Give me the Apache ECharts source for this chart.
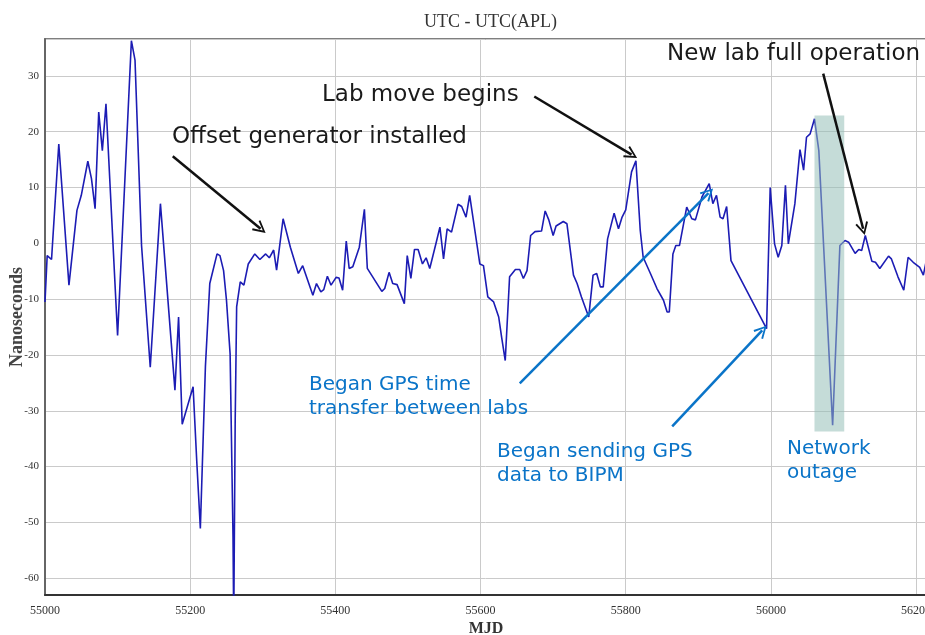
<!DOCTYPE html>
<html>
<head>
<meta charset="utf-8">
<title>UTC - UTC(APL)</title>
<script src="https://cdn.jsdelivr.net/npm/echarts@6/dist/echarts.min.js"></script>
<style>
  html, body { margin: 0; padding: 0; background: #fff; }
  #chart { width: 925px; height: 635px; }
</style>
</head>
<body>
<div id="chart"></div>
<script>
// MJD / nanosecond values
var mjd = [55000, 55003, 55009, 55019, 55033, 55044, 55050, 55059, 55064, 55069,
  55074, 55079, 55084, 55100, 55119, 55124, 55133, 55145, 55159, 55179,
  55184, 55189, 55204, 55209, 55214, 55221, 55227, 55237, 55241, 55246,
  55250, 55255, 55259, 55260, 55262, 55264, 55269, 55274, 55280, 55289,
  55296, 55304, 55309, 55315, 55319, 55328, 55338, 55349, 55355, 55369,
  55374, 55380, 55384, 55389, 55394, 55401, 55405, 55410, 55415, 55419,
  55424, 55433, 55440, 55444, 55464, 55468, 55474, 55479, 55485, 55495,
  55499, 55504, 55509, 55514, 55520, 55525, 55530, 55539, 55544, 55549,
  55554, 55560, 55569, 55574, 55580, 55585, 55599, 55604, 55610, 55618,
  55625, 55629, 55634, 55640, 55648, 55654, 55659, 55664, 55669, 55675,
  55684, 55689, 55694, 55700, 55704, 55714, 55719, 55728, 55733, 55739,
  55749, 55755, 55760, 55765, 55769, 55775, 55784, 55790, 55795, 55800,
  55808, 55814, 55820, 55824, 55834, 55843, 55852, 55857, 55860, 55865,
  55869, 55874, 55884, 55891, 55896, 55905, 55915, 55920, 55925, 55930,
  55934, 55939, 55945, 55994, 55999, 56005, 56010, 56015, 56020, 56024,
  56033, 56040, 56045, 56049, 56054, 56060, 56066, 56085, 56095, 56102,
  56107, 56116, 56121, 56125, 56130, 56139, 56144, 56150, 56162, 56166,
  56175, 56183, 56189, 56196, 56205, 56210, 56214];
var ns = [-10.5, -2.2, -2.9, 17.8, -7.5, 5.9, 8.6, 14.7, 11.6, 6.2,
  23.5, 16.6, 25.0, -16.5, 36.3, 32.8, -0.4, -22.2, 7.1, -26.3,
  -13.2, -32.4, -25.7, -38.9, -51.1, -22.0, -7.2, -1.9, -2.2, -4.9,
  -10.2, -19.8, -52.6, -68, -31.7, -11.4, -6.9, -7.5, -3.7, -1.9,
  -2.9, -1.9, -2.6, -1.2, -4.8, 4.4, -0.7, -5.4, -4.0, -9.3,
  -7.2, -8.7, -8.3, -5.9, -7.5, -6.1, -6.2, -8.4, 0.4, -4.5,
  -4.2, -0.7, 6.1, -4.5, -8.6, -8.1, -5.2, -7.2, -7.4, -10.8,
  -2.2, -6.3, -1.1, -1.1, -3.7, -2.6, -4.5, 0.2, 2.9, -2.8,
  2.6, 2.0, 7.0, 6.6, 4.7, 8.6, -3.7, -4.0, -9.6, -10.5,
  -13.2, -16.8, -21.0, -6.0, -4.7, -4.7, -6.3, -4.9, 1.4, 2.1,
  2.2, 5.8, 4.2, 1.4, 3.1, 3.9, 3.5, -5.7, -7.2, -9.6,
  -13.2, -5.7, -5.4, -7.8, -7.8, 0.8, 5.4, 2.6, 4.7, 6.0,
  12.8, 14.8, 2.3, -2.5, -5.4, -8.1, -10.2, -12.3, -12.3, -1.9,
  -0.4, -0.4, 6.5, 4.4, 4.2, 8.3, 10.7, 7.1, 8.6, 4.7,
  4.4, 6.6, -3.1, -15.3, 10.0, -0.1, -2.5, -0.4, 10.4, -0.1,
  7.1, 16.8, 13.1, 19.0, 19.6, 22.3, 16.6, -32.6, -0.4, 0.5,
  0.2, -1.8, -1.1, -1.3, 1.4, -3.2, -3.4, -4.5, -2.3, -2.8,
  -6.0, -8.4, -2.5, -3.4, -4.3, -5.7, -3.1];

// annotation arrows: [fromMJD, fromNs, toMJD, toNs, colour]
var arrows = [
  [55176, 15.6, 55297, 2.6, '#111'],
  [55674, 26.3, 55808, 15.9, '#111'],
  [56072, 30.4, 56127, 2.6, '#111'],
  [55654, -25.1, 55914, 9.0, '#0a74c8'],
  [55864, -32.8, 55988, -15.6, '#0a74c8']
];
// network outage band: [fromMJD, toMJD, top, bottom]
var outage = [56060, 56101, 22.9, -33.7];

var chart = echarts.init(document.getElementById('chart'));

var series = mjd.map(function (m, i) { return [m, ns[i]]; });

var arrowHead = 'path://M0,12 L6,0 L12,12 L10.4,12.8 L6,3.6 L1.6,12.8 Z';

var option = {
  backgroundColor: '#fff',
  animation: false,
  title: {
    text: 'UTC - UTC(APL)',
    left: 419,
    top: 8,
    textStyle: { fontFamily: 'Liberation Serif', fontSize: 18, fontWeight: 'normal', color: '#333' }
  },
  grid: {
    left: 45, right: -2, top: 39, bottom: 40,
    outerBoundsMode: 'none',
    containLabel: false,
    show: true, borderColor: '#555', borderWidth: 1.5
  },
  xAxis: {
    type: 'value',
    min: 55000,
    max: 56215,
    interval: 200,
    name: 'MJD',
    nameLocation: 'middle',
    nameGap: 26,
    nameMoveOverlap: false,
    nameTextStyle: { fontFamily: 'Liberation Serif', fontSize: 16, fontWeight: 'bold', color: '#333' },
    axisLine: { onZero: false, lineStyle: { color: '#333', width: 2 } },
    axisTick: { show: false },
    axisLabel: {
      margin: 10,
      fontFamily: 'Liberation Serif', fontSize: 12, color: '#333',
      formatter: function (v) { return v % 200 === 0 ? String(v) : ''; }
    },
    splitLine: { show: true, lineStyle: { color: '#cacaca', width: 1 } }
  },
  yAxis: {
    type: 'value',
    min: -63,
    max: 36.6,
    splitNumber: 10,
    name: 'Nanoseconds',
    nameLocation: 'middle',
    nameGap: 19,
    nameMoveOverlap: false,
    nameRotate: 90,
    nameTextStyle: { fontFamily: 'Liberation Serif', fontSize: 18, fontWeight: 'bold', color: '#444' },
    axisLine: { show: true, onZero: false, lineStyle: { color: '#666', width: 2 } },
    axisTick: { show: false },
    axisLabel: {
      margin: 6,
      fontFamily: 'Liberation Serif', fontSize: 11, color: '#333',
      formatter: function (v) { return v % 10 === 0 ? String(v) : ''; }
    },
    splitLine: { show: true, lineStyle: { color: '#cacaca', width: 1 } }
  },
  series: [
    {
      name: 'UTC - UTC(APL)',
      type: 'line',
      data: series,
      showSymbol: false,
      z: 2,
      lineStyle: { color: '#1c1cb4', width: 1.6 }
    },
    {
      name: 'outage',
      type: 'line',
      data: [],
      z: 3,
      markArea: {
        silent: true,
        z: 5,
        itemStyle: { color: 'rgba(150,192,184,0.55)' },
        data: [[{ coord: [outage[0], outage[2]] }, { coord: [outage[1], outage[3]] }]]
      }
    },
    {
      name: 'arrows',
      type: 'line',
      data: [],
      z: 6,
      markLine: {
        silent: true,
        z: 6,
        symbol: ['none', arrowHead],
        symbolSize: [13, 13],
        label: { show: false },
        data: arrows.map(function (a) {
          return [
            { coord: [a[0], a[1]], lineStyle: { color: a[4], width: 2.5, type: 'solid' } },
            { coord: [a[2], a[3]] }
          ];
        })
      }
    }
  ],
  graphic: [
    { type: 'text', z: 100, left: 172, top: 126, style: { text: 'Offset generator installed', font: '23px "DejaVu Sans"', fill: '#1a1a1a' } },
    { type: 'text', z: 100, left: 322, top: 84, style: { text: 'Lab move begins', font: '23px "DejaVu Sans"', fill: '#1a1a1a' } },
    { type: 'text', z: 100, left: 667, top: 43, style: { text: 'New lab full operation', font: '23px "DejaVu Sans"', fill: '#1a1a1a' } },
    { type: 'text', z: 100, left: 309, top: 373, style: { text: 'Began GPS time\ntransfer between labs', font: '20px "DejaVu Sans"', lineHeight: 24, fill: '#0a74c8' } },
    { type: 'text', z: 100, left: 497, top: 440, style: { text: 'Began sending GPS\ndata to BIPM', font: '20px "DejaVu Sans"', lineHeight: 24, fill: '#0a74c8' } },
    { type: 'text', z: 100, left: 787, top: 437, style: { text: 'Network\noutage', font: '20px "DejaVu Sans"', lineHeight: 24, fill: '#0a74c8' } }
  ]
};

chart.setOption(option);
</script>
</body>
</html>
